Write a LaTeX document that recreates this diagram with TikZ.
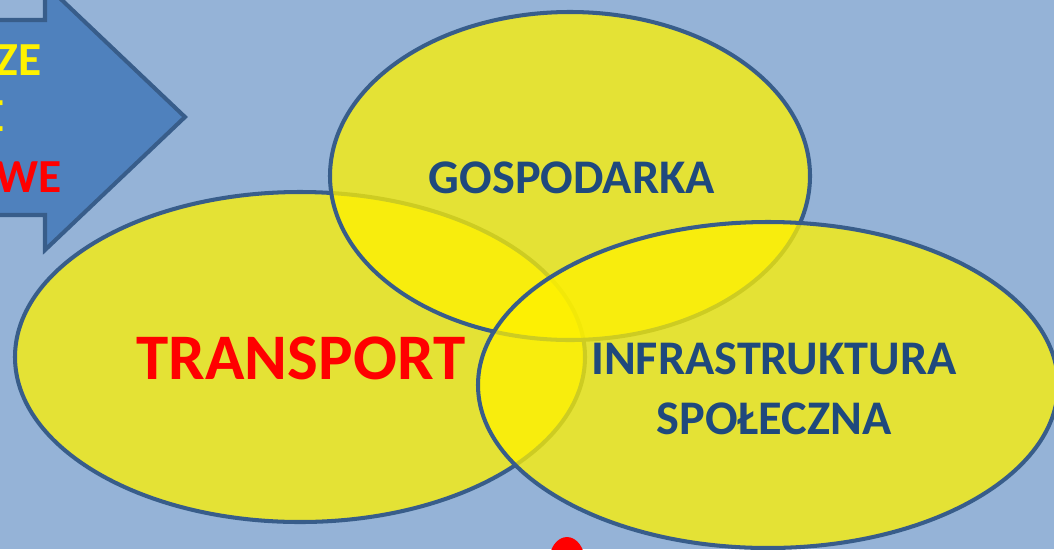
\documentclass[tikz,border=0pt]{standalone}
\usepackage{fontspec}
\setmainfont{Carlito}
\definecolor{bgblue}{RGB}{149,179,215}
\definecolor{arrowblue}{RGB}{79,129,189}
\definecolor{edgeblue}{RGB}{56,93,138}
\definecolor{textblue}{RGB}{31,73,125}
\tikzset{
  every picture/.style={line width=0.75pt},
  circ/.style={draw=edgeblue,line width=2.3pt,fill=yellow,fill opacity=0.75},
  lab/.style={font=\bfseries\fontsize{27.5}{33}\selectfont,text=textblue,align=center},
  arrlab/.style={font=\bfseries\fontsize{27}{30}\selectfont,anchor=east,inner sep=0pt}
}
\begin{document}
\begin{tikzpicture}[x=0.02cm,y=-0.02cm]
  \fill[bgblue] (0,0) rectangle (1054,549);
  \useasboundingbox (0,0) rectangle (1054,549);
  \begin{scope}
    \clip (0,0) rectangle (1054,549);
    % arrow at the top left
    \draw[fill=arrowblue,draw=edgeblue,line width=2.3pt,line join=miter]
      (-20,20) -- (45,20) -- (45,-16) -- (185,117) -- (45,250) -- (45,215) -- (-20,215) -- cycle;
    \node[arrlab,text=yellow] (ze) at (42,60) {ZE};
    \node[arrlab,text=yellow] (e) at (5,116) {E};
    \node[arrlab,text=red] (we) at (62,177) {WE};
    % the three sets
    \draw[circ] (300,357) ellipse (285 and 165);
    \draw[circ] (570,176) ellipse (240 and 164);
    \draw[circ] (768,385) ellipse (290 and 163);
    \fill[red] (567,562) ellipse (18 and 25);
  \end{scope}
  \node[lab] (gosp) at (572,178) {GOSPODARKA};
  \node[lab,text=red,font=\bfseries\fontsize{37}{44}\selectfont] (trans) at (301,358) {TRANSPORT};
  \node[lab] (infra) at (774,389) {INFRASTRUKTURA\\[1pt]SPOŁECZNA};
\end{tikzpicture}
\end{document}
